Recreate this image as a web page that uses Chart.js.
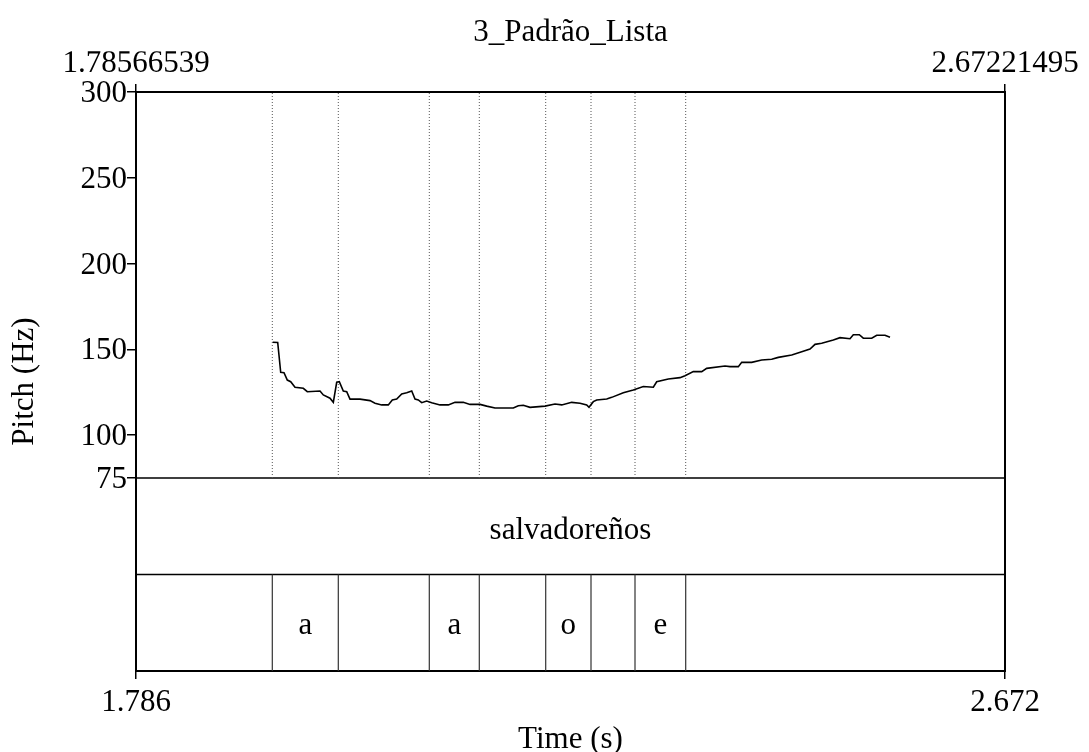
<!DOCTYPE html>
<html><head><meta charset="utf-8">
<script src="https://cdn.jsdelivr.net/npm/chart.js@4.4.1/dist/chart.umd.min.js"></script>
<style>html,body{margin:0;padding:0;background:#fff;} canvas{display:block;}</style>
</head><body>
<canvas id="c" width="1089" height="752"></canvas>
<script>
const chartTitle = '3_Padrão_Lista';
const xAxisTitle = 'Time (s)';
const yAxisTitle = 'Pitch (Hz)';
const timeMin = 1.78566539, timeMax = 2.67221495;
const topTickLabels = ['1.78566539', '2.67221495'];
const bottomTickLabels = ['1.786', '2.672'];
const pitchMin = 75, pitchMax = 300;
const pitchTickValues = [75, 100, 150, 200, 250, 300];

const pitchTimes = [1.92513,1.93023,1.93329,1.93666,1.94003,1.94349,1.94788,1.95635,1.96043,1.97339,
  1.97675,1.98359,1.98696,1.99042,1.99308,1.99716,2.00063,2.00399,2.01419,2.02440,
  2.02950,2.03633,2.04307,2.04715,2.05164,2.05674,2.06184,2.06694,2.07031,2.07367,
  2.07714,2.08224,2.08734,2.09581,2.10428,2.11111,2.11958,2.12642,2.13662,2.14345,
  2.15192,2.17059,2.17569,2.18079,2.18763,2.20293,2.21313,2.21997,2.23017,2.23864,
  2.24547,2.24782,2.25221,2.25567,2.26588,2.27098,2.28281,2.29302,2.30322,2.31342,
  2.31689,2.32872,2.34066,2.34576,2.35423,2.36280,2.36790,2.38657,2.39167,2.40014,
  2.40361,2.41381,2.42401,2.43421,2.44094,2.45462,2.46482,2.47328,2.47839,2.48522,
  2.49706,2.50389,2.51409,2.51746,2.52358,2.52766,2.53623,2.54133,2.54980,2.55490];
const pitchHz = [154.1,154.0,136.6,136.4,132.1,131.1,127.9,127.3,125.3,125.7,
  123.4,121.5,119.1,130.8,131.1,125.7,125.3,121.0,121.0,120.1,
  118.6,117.6,117.6,120.5,121.0,124.0,124.7,125.7,121.0,120.5,
  118.9,119.9,118.9,117.6,117.6,119.1,119.1,117.9,117.9,116.9,
  115.8,115.8,117.1,117.4,116.2,116.9,118.1,117.6,119.1,118.6,
  117.6,116.2,119.5,120.5,121.0,122.0,124.7,126.3,128.3,127.9,
  131.1,132.7,133.5,134.6,137.0,137.0,138.9,140.3,139.9,139.9,
  142.4,142.4,143.8,144.2,145.3,146.7,148.6,150.2,152.9,153.5,
  155.4,156.8,156.2,158.5,158.5,156.5,156.5,158.2,158.2,157.0];

const phoneBoundaries = [1.924718, 1.992051, 2.084890, 2.135899, 2.203641, 2.249856, 2.294745, 2.346468];
const phoneLabels = ['a', '', 'a', '', 'o', '', 'e'];
const wordLabel = 'salvadoreños';

const FONT = '"Liberation Serif", "Times New Roman", serif';
const FS = 31;
Chart.defaults.font.family = FONT;
Chart.defaults.font.size = FS;
Chart.defaults.color = '#000';

// tier coordinate: 0..1 phone tier, 1..2 word tier, 2..6 pitch area
const tierLineData = [{x: timeMin, y: 2}, {x: timeMax, y: 2}, {x: timeMax, y: null}, {x: timeMin, y: 1}, {x: timeMax, y: 1}];
const dottedData = phoneBoundaries.flatMap(t => [{x: t, y: 2}, {x: t, y: 6}, {x: t, y: null}]);
const phoneLineData = phoneBoundaries.flatMap(t => [{x: t, y: 0}, {x: t, y: 1}, {x: t, y: null}]);

const tierText = {
  id: 'tierText',
  afterDatasetsDraw(chart) {
    const {ctx, scales: {x, yt}} = chart;
    ctx.save();
    ctx.font = FS + 'px ' + FONT;
    ctx.fillStyle = '#000';
    ctx.textAlign = 'center';
    ctx.textBaseline = 'middle';
    ctx.fillText(wordLabel, x.getPixelForValue((timeMin + timeMax) / 2), yt.getPixelForValue(1.5) + 5);
    for (let i = 0; i < phoneLabels.length; i++) {
      if (!phoneLabels[i]) continue;
      const xm = (phoneBoundaries[i] + phoneBoundaries[i + 1]) / 2;
      ctx.fillText(phoneLabels[i], x.getPixelForValue(xm), yt.getPixelForValue(0.5) + 3);
    }
    ctx.restore();
  }
};

new Chart(document.getElementById('c'), {
  type: 'line',
  data: {
    datasets: [
      {data: pitchTimes.map((t, i) => ({x: t, y: pitchHz[i]})), xAxisID: 'x', yAxisID: 'y',
       borderColor: '#000', borderWidth: 1.6, pointRadius: 0, tension: 0},
      {data: dottedData, xAxisID: 'x', yAxisID: 'yt', borderColor: '#555', borderWidth: 1,
       borderDash: [1, 2], pointRadius: 0, spanGaps: false},
      {data: phoneLineData, xAxisID: 'x', yAxisID: 'yt', borderColor: '#333', borderWidth: 1.2,
       pointRadius: 0, spanGaps: false},
      {data: tierLineData, xAxisID: 'x', yAxisID: 'yt', borderColor: '#000', borderWidth: 1.6,
       pointRadius: 0, spanGaps: false}
    ]
  },
  options: {
    responsive: false,
    animation: false,
    devicePixelRatio: 1,
    layout: {padding: 0},
    plugins: {
      legend: {display: false},
      tooltip: {enabled: false},
      title: {display: true, fullSize: false, text: chartTitle,
              font: {size: FS, weight: 'normal', family: FONT, lineHeight: 1.2},
              color: '#000', padding: {top: 14, bottom: 0}}
    },
    scales: {
      x: {
        type: 'linear', position: 'bottom', min: timeMin, max: timeMax,
        afterBuildTicks: s => { s.ticks = [{value: timeMin}, {value: timeMax}]; },
        afterFit: s => { s.height = 81; },
        ticks: {autoSkip: false, maxRotation: 0, padding: 5.5, callback: (v, i) => bottomTickLabels[i]},
        grid: {drawOnChartArea: false, drawTicks: true, tickLength: 8, color: '#000', lineWidth: 1.5},
        border: {display: true, color: '#000', width: 2},
        title: {display: true, text: xAxisTitle, padding: {top: 0, bottom: -6.5}, font: {size: FS, lineHeight: 1.2}}
      },
      x2: {
        type: 'linear', position: 'top', min: timeMin, max: timeMax,
        afterBuildTicks: s => { s.ticks = [{value: timeMin}, {value: timeMax}]; },
        afterFit: s => { s.height = 92 - (14 + FS * 1.2); },
        ticks: {autoSkip: false, maxRotation: 0, padding: 1.5, callback: (v, i) => topTickLabels[i]},
        grid: {drawOnChartArea: false, drawTicks: true, tickLength: 8, color: '#000', lineWidth: 1.5},
        border: {display: true, color: '#000', width: 2}
      },
      y: {
        type: 'linear', position: 'left', min: pitchMin - (pitchMax - pitchMin) / 2, max: pitchMax,
        afterBuildTicks: s => { s.ticks = pitchTickValues.map(v => ({value: v})); },
        afterFit: s => { s.width = 136; },
        ticks: {autoSkip: false, padding: 0, labelOffset: 2, callback: v => String(v)},
        grid: {drawOnChartArea: false, drawTicks: true, tickLength: 9, color: '#000', lineWidth: 1.5},
        border: {display: true, color: '#000', width: 2},
        title: {display: true, text: yAxisTitle, padding: {top: 6, bottom: 0}, font: {size: FS, lineHeight: 1.2}}
      },
      y2: {
        type: 'linear', position: 'right', min: 0, max: 1,
        afterFit: s => { s.width = 84; },
        ticks: {display: false},
        grid: {drawOnChartArea: false, drawTicks: false},
        border: {display: true, color: '#000', width: 2}
      },
      yt: {type: 'linear', display: false, min: 0, max: 6}
    }
  },
  plugins: [tierText]
});
</script>
</body></html>
